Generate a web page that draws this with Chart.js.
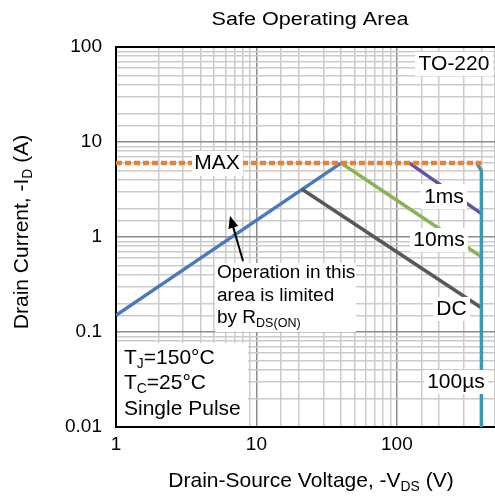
<!DOCTYPE html>
<html>
<head>
<meta charset="utf-8">
<title>Safe Operating Area</title>
<script src="https://cdn.jsdelivr.net/npm/chart.js@4"></script>
<style>
  html, body { margin: 0; padding: 0; background: #fff; overflow: hidden; }
  #soa { display: block; }
</style>
</head>
<body>
<canvas id="soa" width="495" height="500"></canvas>
<script>
// SOA boundary segments (V, A)
const voltsMax = [1, 400];
const ampsMax = [6, 6];
const voltsRds = [1, 40];
const ampsRds = [0.15, 6];
const voltsDc = [21, 400];
const ampsDc = [3.2, 0.18];
const volts10ms = [40, 400];
const amps10ms = [6, 0.62];
const volts1ms = [123, 400];
const amps1ms = [6, 1.76];
const volts100us = [370, 400, 400];
const amps100us = [6, 5, 0.01];

const xTickLabels = ['1', '10', '100'];        // 10^0 .. 10^2
const yTickLabels = ['0.01', '0.1', '1', '10', '100']; // 10^-2 .. 10^2

const FONT = '"Liberation Sans", Arial, sans-serif';

function pts(xs, ys) {
  return xs.map((x, i) => ({ x: x, y: ys[i] }));
}

function decade(v) {
  const l = Math.log10(v);
  return Math.abs(l - Math.round(l)) < 1e-6 ? Math.round(l) : null;
}

function line(data, color, extra) {
  return Object.assign({
    data: data,
    showLine: true,
    borderColor: color,
    borderWidth: 3.5,
    pointRadius: 0,
    tension: 0,
    fill: false
  }, extra || {});
}

// draws text with optional subscript parts, e.g. [['-I'], ['D', true]]
function richText(ctx, parts, x, y, size, align) {
  const sub = size * 0.66;
  let w = 0;
  parts.forEach(p => {
    ctx.font = (p[1] ? sub : size) + 'px ' + FONT;
    w += ctx.measureText(p[0]).width;
  });
  let cx = align === 'center' ? x - w / 2 : x;
  ctx.textAlign = 'left';
  ctx.textBaseline = 'middle';
  parts.forEach(p => {
    ctx.font = (p[1] ? sub : size) + 'px ' + FONT;
    ctx.fillText(p[0], cx, p[1] ? y + size * 0.28 : y);
    cx += ctx.measureText(p[0]).width;
  });
}

function box(ctx, x0, y0, x1, y1) {
  ctx.fillStyle = '#fff';
  ctx.fillRect(x0, y0, x1 - x0, y1 - y0);
  ctx.fillStyle = '#000';
}

const labelsPlugin = {
  id: 'soaLabels',
  afterDatasetsDraw(chart) {
    const ctx = chart.ctx;
    const a = chart.chartArea;
    ctx.save();

    // top frame line
    ctx.strokeStyle = '#000';
    ctx.lineWidth = 2;
    ctx.beginPath();
    ctx.moveTo(a.left, a.top);
    ctx.lineTo(a.right, a.top);
    ctx.stroke();

    ctx.fillStyle = '#000';

    box(ctx, 415, 52, 493, 76);
    richText(ctx, [['TO-220']], 454, 64, 21, 'center');

    box(ctx, 192, 151, 243, 176);
    richText(ctx, [['MAX']], 217, 163, 21, 'center');

    box(ctx, 421, 184, 467, 209);
    richText(ctx, [['1ms']], 444, 197, 21, 'center');

    box(ctx, 410, 228, 468, 252);
    richText(ctx, [['10ms']], 439, 240, 21, 'center');

    box(ctx, 433, 297, 470, 321);
    richText(ctx, [['DC']], 451.5, 309, 21, 'center');

    box(ctx, 424, 370, 488, 394);
    richText(ctx, [['100µs']], 456, 382, 21, 'center');

    // R_DS(on) note + arrow
    box(ctx, 215, 263, 356, 332);
    richText(ctx, [['Operation in this']], 217, 273, 19, 'left');
    richText(ctx, [['area is limited']], 217, 295.5, 19, 'left');
    richText(ctx, [['by R'], ['DS(ON)', true]], 217, 318, 19, 'left');

    const tx = 243, ty = 261, hx = 230, hy = 216;
    const ang = Math.atan2(hy - ty, hx - tx);
    ctx.strokeStyle = '#000';
    ctx.lineWidth = 2;
    ctx.beginPath();
    ctx.moveTo(tx, ty);
    ctx.lineTo(hx - Math.cos(ang) * 8, hy - Math.sin(ang) * 8);
    ctx.stroke();
    ctx.beginPath();
    ctx.moveTo(hx, hy);
    ctx.lineTo(hx - Math.cos(ang - 0.4) * 13, hy - Math.sin(ang - 0.4) * 13);
    ctx.lineTo(hx - Math.cos(ang + 0.4) * 13, hy - Math.sin(ang + 0.4) * 13);
    ctx.closePath();
    ctx.fill();

    // test conditions
    box(ctx, a.left + 1, 343, 248, a.bottom - 1);
    richText(ctx, [['T'], ['J', true], ['=150°C']], 124, 358, 21, 'left');
    richText(ctx, [['T'], ['C', true], ['=25°C']], 124, 383.5, 21, 'left');
    richText(ctx, [['Single Pulse']], 124, 409, 21, 'left');

    ctx.restore();
  },
  afterDraw(chart) {
    const ctx = chart.ctx;
    ctx.save();
    ctx.fillStyle = '#000';

    // chart title, slightly widened
    ctx.save();
    ctx.translate(310, 20);
    ctx.scale(1.2, 1);
    richText(ctx, [['Safe Operating Area']], 0, 0, 18, 'center');
    ctx.restore();

    richText(ctx, [['Drain-Source Voltage, -V'], ['DS', true], [' (V)']], 311, 481, 21, 'center');

    ctx.save();
    ctx.translate(22, 232);
    ctx.rotate(-Math.PI / 2);
    richText(ctx, [['Drain Current, -I'], ['D', true], [' (A)']], 0, 0, 21, 'center');
    ctx.restore();

    ctx.restore();
  }
};

function gridColor(c) {
  return decade(c.tick.value) !== null ? '#8c8c8c' : '#cbcbcb';
}

new Chart(document.getElementById('soa'), {
  type: 'scatter',
  data: {
    datasets: [
      line(pts(voltsMax, ampsMax), '#e3843c', { borderWidth: 4.5, borderDash: [6, 3] }),
      line(pts(volts100us, amps100us), '#3b98b0'),
      line(pts(volts1ms, amps1ms), '#6b4f9e'),
      line(pts(volts10ms, amps10ms), '#8cb352'),
      line(pts(voltsDc, ampsDc), '#585858'),
      line(pts(voltsRds, ampsRds), '#4a7ab8')
    ]
  },
  options: {
    responsive: false,
    animation: false,
    devicePixelRatio: 1,
    layout: { padding: { top: 47, left: 0, right: 0, bottom: 0 } },
    plugins: {
      legend: { display: false },
      tooltip: { enabled: false },
      title: { display: false }
    },
    scales: {
      x: {
        type: 'logarithmic',
        min: 1,
        max: 500,
        grid: { color: gridColor, lineWidth: 1.5, drawTicks: false },
        border: { color: '#000', width: 2 },
        ticks: {
          autoSkip: false,
          maxRotation: 0,
          padding: 6,
          color: '#000',
          font: { family: FONT, size: 19 },
          callback: v => {
            const d = decade(v);
            return d !== null && xTickLabels[d] !== undefined ? xTickLabels[d] : '';
          }
        },
        afterFit: s => { s.height = 73; s.paddingLeft = 0; s.paddingRight = 0; }
      },
      y: {
        type: 'logarithmic',
        min: 0.01,
        max: 100,
        grid: { color: gridColor, lineWidth: 1.5, drawTicks: false },
        border: { color: '#000', width: 2 },
        ticks: {
          autoSkip: false,
          padding: 14,
          color: '#000',
          font: { family: FONT, size: 19 },
          callback: v => {
            const d = decade(v);
            return d !== null && yTickLabels[d + 2] !== undefined ? yTickLabels[d + 2] : '';
          }
        },
        afterFit: s => { s.width = 116; }
      }
    }
  },
  plugins: [labelsPlugin]
});
</script>
</body>
</html>
